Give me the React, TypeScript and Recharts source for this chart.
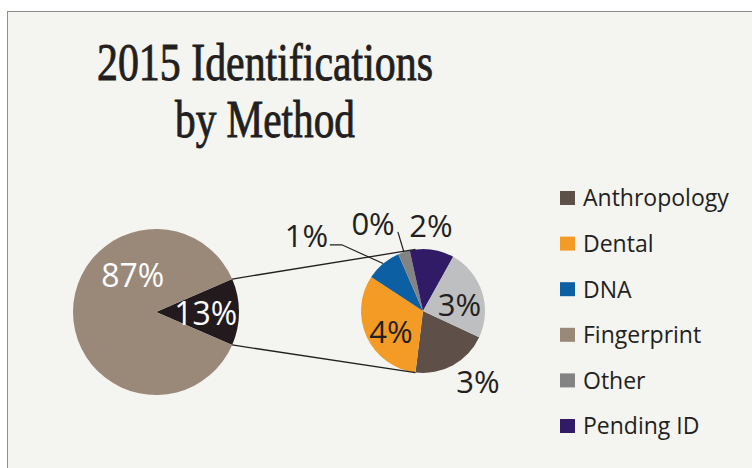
import React from 'react';
import { PieChart, Pie, Cell, Legend } from 'recharts';

// ---- data ----
const TITLE_LINES = ['2015 Identifications', 'by Method'];

const MAIN_NAMES = ['Other methods', 'Fingerprint'];
const MAIN_VALUES = [13, 87];

const SECONDARY_NAMES = ['Anthropology', 'Dental', 'DNA', 'Other', 'Pending ID', 'Unlisted'];
const SECONDARY_VALUES = [2.6, 4.2, 1.2, 0.4, 1.5, 3.1];

const LEGEND_NAMES = ['Anthropology', 'Dental', 'DNA', 'Fingerprint', 'Other', 'Pending ID'];

// ---- styles ----
const COLORS: Record<string, string> = {
  'Other methods': '#231A1D',
  Fingerprint: '#9A8979',
  Anthropology: '#5E5049',
  Dental: '#F49B26',
  DNA: '#0C5FA3',
  Other: '#838384',
  'Pending ID': '#311B67',
  Unlisted: '#BEBFC1',
};

const BG = '#F4F4F0';
const INK = '#231F20';
const SANS = '"Open Sans", "Noto Sans", sans-serif';

const MAIN = { cx: 156, cy: 312, r: 83 };
const SEC = { cx: 423, cy: 311, r: 62, connectAngle: 97 };

// label placement (polar, relative to each pie) — styling only
const MAIN_LABEL_POS = [
  { a: 0, f: 0.6 },
  { a: 122, f: 0.53 },
];
const SEC_LABEL_POS = [
  { a: -52, f: 1.44 },
  { a: 212, f: 0.61 },
  { a: 147, f: 2.24, leader: { a: 140.8, f: 1.69, tail: 12 } },
  { a: 119.6, f: 1.63, leader: { a: 107.6, f: 1.34, tail: 0 } },
  { a: 84.7, f: 1.39 },
  { a: 11, f: 0.6 },
];

const mainData = MAIN_NAMES.map((name, i) => ({ name, value: MAIN_VALUES[i] }));
const secData = SECONDARY_NAMES.map((name, i) => ({ name, value: SECONDARY_VALUES[i] }));

const RAD = Math.PI / 180;
const polar = (cx: number, cy: number, r: number, a: number) => ({
  x: cx + r * Math.cos(a * RAD),
  y: cy - r * Math.sin(a * RAD),
});

const mainHalf = (MAIN_VALUES[0] / MAIN_VALUES.reduce((s, v) => s + v, 0)) * 180;

const renderMainLabel = (props: any) => {
  const { cx, cy, outerRadius, index, value, startAngle, endAngle } = props;
  const pos = MAIN_LABEL_POS[index];
  const p = polar(cx, cy, outerRadius * pos.f, pos.a);
  const text = (
    <text
      x={p.x}
      y={p.y}
      textAnchor="middle"
      dominantBaseline="central"
      fill="#FFFFFF"
      fontFamily={SANS}
      fontSize={32}
    >
      {`${value}%`}
    </text>
  );
  if (index !== 0) return <g key={`ml-${index}`}>{text}</g>;
  const a1 = polar(cx, cy, outerRadius, startAngle);
  const a2 = polar(cx, cy, outerRadius, endAngle);
  const top = a1.y < a2.y ? a1 : a2;
  const bot = a1.y < a2.y ? a2 : a1;
  const sTop = polar(SEC.cx, SEC.cy, SEC.r, SEC.connectAngle);
  const sBot = polar(SEC.cx, SEC.cy, SEC.r, -SEC.connectAngle);
  return (
    <g key={`ml-${index}`}>
      <line x1={top.x} y1={top.y} x2={sTop.x} y2={sTop.y} stroke={INK} strokeWidth={1.3} />
      <line x1={bot.x} y1={bot.y} x2={sBot.x} y2={sBot.y} stroke={INK} strokeWidth={1.3} />
      {text}
    </g>
  );
};

const renderSecLabel = (props: any) => {
  const { cx, cy, outerRadius, index, value, midAngle } = props;
  const pos = SEC_LABEL_POS[index];
  const p = polar(cx, cy, outerRadius * pos.f, pos.a);
  let leader = null;
  if (pos.leader) {
    const s = polar(cx, cy, outerRadius, midAngle);
    const e = polar(cx, cy, outerRadius * pos.leader.f, pos.leader.a);
    const pts = `${s.x},${s.y} ${e.x},${e.y} ${e.x - pos.leader.tail},${e.y}`;
    leader = <polyline points={pts} fill="none" stroke={INK} strokeWidth={1.2} />;
  }
  return (
    <g key={`sl-${index}`}>
      {leader}
      <text
        x={p.x}
        y={p.y}
        textAnchor="middle"
        dominantBaseline="central"
        fill={INK}
        fontFamily={SANS}
        fontSize={31}
      >
        {`${Math.round(value)}%`}
      </text>
    </g>
  );
};

const LegendContent = () => (
  <svg width={192} height={270} style={{ display: 'block', overflow: 'visible' }}>
    {LEGEND_NAMES.map((name, i) => {
      const cyRow = 18 + i * 45.6;
      return (
        <g key={name}>
          <rect x={0} y={cyRow - 7} width={15} height={14} fill={COLORS[name]} />
          <text x={23} y={cyRow + 8.3} fill={INK} fontFamily={SANS} fontSize={23}>
            {name}
          </text>
        </g>
      );
    })}
  </svg>
);

export default function App() {
  return (
    <div
      style={{
        position: 'absolute',
        left: 0,
        top: 0,
        width: 752,
        height: 468,
        overflow: 'hidden',
        background: '#FFFFFF',
      }}
    >
      <div
        style={{
          position: 'absolute',
          left: 7,
          top: 11,
          width: 780,
          height: 500,
          background: BG,
          borderLeft: '1.5px solid #8E8E8E',
          borderTop: '1.5px solid #8E8E8E',
        }}
      />
      <div style={{ position: 'absolute', left: 0, top: 0 }}>
        <PieChart width={752} height={468} margin={{ top: 0, right: 0, bottom: 0, left: 0 }}>
          <Pie
            data={mainData}
            dataKey="value"
            nameKey="name"
            cx={MAIN.cx}
            cy={MAIN.cy}
            outerRadius={MAIN.r}
            startAngle={mainHalf}
            endAngle={mainHalf - 360}
            stroke="none"
            label={renderMainLabel}
            labelLine={false}
            isAnimationActive={false}
          >
            {mainData.map((d) => (
              <Cell key={d.name} fill={COLORS[d.name]} />
            ))}
          </Pie>
          <Pie
            data={secData}
            dataKey="value"
            nameKey="name"
            cx={SEC.cx}
            cy={SEC.cy}
            outerRadius={SEC.r}
            startAngle={-25}
            endAngle={-385}
            stroke="none"
            label={renderSecLabel}
            labelLine={false}
            isAnimationActive={false}
          >
            {secData.map((d) => (
              <Cell key={d.name} fill={COLORS[d.name]} />
            ))}
          </Pie>
          <Legend
            layout="vertical"
            align="right"
            verticalAlign="top"
            content={LegendContent}
            wrapperStyle={{ left: 560, right: 'auto', top: 180, width: 192 }}
          />
        </PieChart>
      </div>
      <svg
        width={752}
        height={468}
        style={{ position: 'absolute', left: 0, top: 0, pointerEvents: 'none' }}
      >
        {TITLE_LINES.map((line, i) => (
          <text
            key={line}
            x={265}
            y={80 + i * 57}
            textAnchor="middle"
            fill={INK}
            stroke={INK}
            strokeWidth={0.9}
            fontFamily='"Liberation Serif", "DejaVu Serif", serif'
            fontSize={53}
            textLength={i === 0 ? 336 : 180}
            lengthAdjust="spacingAndGlyphs"
          >
            {line}
          </text>
        ))}
      </svg>
    </div>
  );
}
